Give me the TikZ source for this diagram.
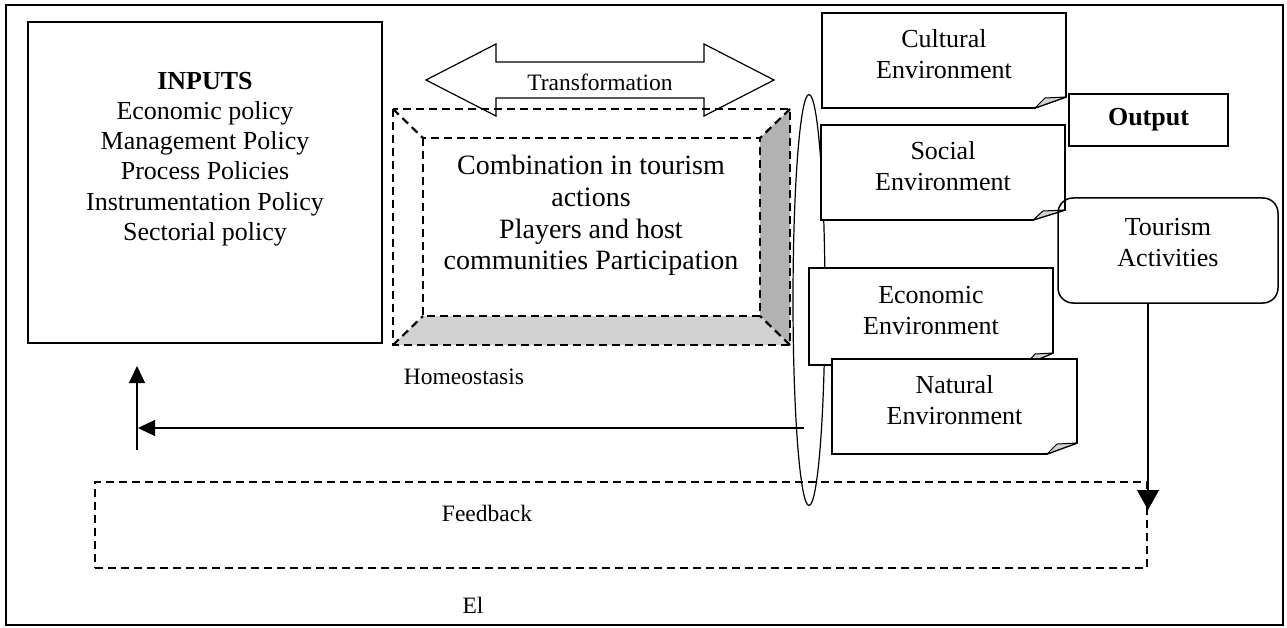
\documentclass[tikz,border=0pt]{standalone}
\usepackage{fontspec}
\setmainfont{Liberation Serif}
\usetikzlibrary{arrows.meta,shapes.geometric}
\newcommand{\mynote}[8]{%
  \draw[notebox] (#1,#2) -- (#3,#2) -- (#3,#6) -- (#5,#4) -- (#1,#4) -- cycle;
  \draw[curl] (#5,#4) -- (#5+10,#6+1) -- (#3,#6) -- cycle;
  \node[big] (#7) at ({(#1+#3)/2},{(#2+#4)/2-6}) {#8};
}
\begin{document}
\begin{tikzpicture}[x=1pt,y=-1pt,
  frame/.style={draw,line width=1.8pt},
  dashbox/.style={draw,line width=2.2pt,dash pattern=on 8pt off 5pt},
  notebox/.style={draw,fill=white,line width=1.6pt},
  curl/.style={draw,fill=gray!35,line width=1pt,line join=round},
  big/.style={font=\fontsize{26}{31}\selectfont,align=center,inner sep=0pt},
  mid/.style={font=\fontsize{23.5}{28}\selectfont,align=center,inner sep=0pt},
  arr/.style={line width=1.3pt,-{Triangle[length=17pt,width=16pt]}}]
\useasboundingbox (0,0) rectangle (1287,628);
\draw[frame] (6,5) rectangle (1283,625);
% inputs
\node[draw,line width=1.8pt,minimum width=354pt,minimum height=321pt,inner sep=0pt] (inbox) at (205,182.5) {};
\node[big,font=\fontsize{26}{30.2}\selectfont] (inputs) at (205,159) {\textbf{INPUTS}\\Economic policy\\Management Policy\\Process Policies\\Instrumentation Policy\\Sectorial policy};
% transformation arrow
\draw[line width=1.2pt,line join=miter] (426,80) -- (496,44) -- (496,62) -- (704,62) -- (704,44) -- (774,80) -- (704,116) -- (704,98) -- (496,98) -- (496,116) -- cycle;
\node[mid] (transf) at (600,82) {Transformation};
% bevel box
\fill[gray!60] (760,138) -- (790,109) -- (790,345) -- (760,316) -- cycle;
\fill[gray!35] (423,316) -- (760,316) -- (790,345) -- (393,345) -- cycle;
\draw[dashbox] (393,109) rectangle (790,345);
\draw[dashbox] (423,138) rectangle (760,316);
\draw[dashbox] (393,109) -- (423,138);
\draw[dashbox] (790,109) -- (760,138);
\draw[dashbox] (393,345) -- (423,316);
\draw[dashbox] (790,345) -- (760,316);
\node[big,font=\fontsize{28}{31.7}\selectfont] (comb) at (591,215.5) {Combination in tourism\\actions\\Players and host\\communities Participation};
% ellipse
\node[draw,ellipse,line width=1.2pt,minimum width=32pt,minimum height=411pt,inner sep=0pt] (ell) at (809,300) {};
% environment notes
\mynote{822}{13}{1066}{108}{1035}{97}{cult}{Cultural\\Environment}
\mynote{821}{125}{1065}{220}{1033}{210}{soc}{Social\\Environment}
\mynote{809}{268}{1053}{365}{1025}{353}{eco}{Economic\\Environment}
\mynote{832}{359}{1077}{454}{1047}{443}{nat}{Natural\\Environment}
% output
\node[draw,line width=1.8pt,minimum width=159pt,minimum height=52pt,inner sep=0pt,font=\fontsize{26}{31}\selectfont] (output) at (1148.5,120) {\textbf{Output}};
% tourism activities
\node[draw,line width=1.5pt,rounded corners=15pt,minimum width=220pt,minimum height=105pt,inner sep=0pt] (tour) at (1168,250.5) {};
\node[big] (tourtxt) at (1168,243) {Tourism\\Activities};
% feedback
\node[dashbox,minimum width=1052pt,minimum height=86pt,inner sep=0pt] (fbox) at (621,525) {};
\node[mid] (fb) at (487,513) {Feedback};
\node[mid] (homeo) at (464,377) {Homeostasis};
\node[mid] (el) at (473,605) {El};
% arrows
\coordinate (ts) at (1148,303);
\coordinate (te) at (1148,510);
\draw[line width=1.3pt,-{Triangle[length=20pt,width=22pt]}] (ts) -- (te);
\coordinate (hs) at (804,428);
\coordinate (he) at (138,428);
\draw[arr] (hs) -- (he);
\coordinate (vs) at (137,450);
\coordinate (ve) at (137,366);
\draw[arr] (vs) -- (ve);
\end{tikzpicture}
\end{document}
